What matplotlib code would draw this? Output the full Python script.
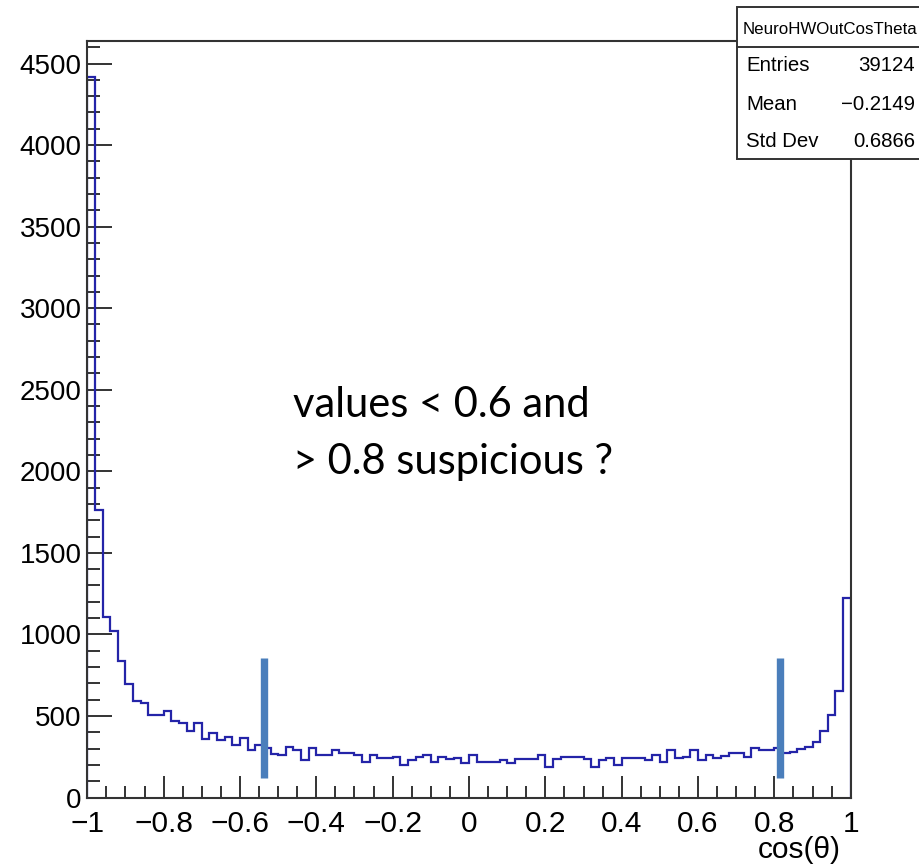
import numpy as np
import matplotlib
matplotlib.use("Agg")
import matplotlib.pyplot as plt
from matplotlib.ticker import MultipleLocator, FixedLocator, FixedFormatter
from matplotlib.patches import Rectangle
from matplotlib.lines import Line2D

# ---------------- data ----------------
x_range = (-1.0, 1.0)
n_bins = 100
counts = [
    4418, 1764, 1105, 1021, 837, 696, 590, 582, 506, 506,
    531, 469, 459, 408, 459, 361, 398, 353, 373, 320,
    363, 291, 322, 302, 269, 261, 312, 291, 230, 302,
    261, 261, 291, 275, 275, 261, 220, 261, 240, 240,
    250, 199, 230, 250, 261, 220, 250, 236, 244, 210,
    261, 220, 220, 220, 230, 210, 234, 234, 234, 261,
    189, 235, 250, 250, 250, 234, 189, 230, 240, 199,
    244, 244, 244, 230, 261, 216, 291, 240, 250, 291,
    230, 261, 240, 254, 271, 271, 246, 302, 291, 291,
    302, 271, 279, 300, 312, 343, 406, 507, 650, 1226,
]
x_tick_values = [-1.0, -0.8, -0.6, -0.4, -0.2, 0.0, 0.2, 0.4, 0.6, 0.8, 1.0]
x_tick_labels = ["\u22121", "\u22120.8", "\u22120.6", "\u22120.4", "\u22120.2",
                 "0", "0.2", "0.4", "0.6", "0.8", "1"]
y_tick_values = [0, 500, 1000, 1500, 2000, 2500, 3000, 3500, 4000, 4500]
y_max = 4638
marker_x = [-0.538, 0.816]
marker_y = (121, 858)
annotation_lines = ["values < 0.6 and", "> 0.8 suspicious ?"]
stats_title = "NeuroHWOutCosTheta"
stats_names = ["Entries", "Mean", "Std Dev"]
stats_values = ["39124", "\u22120.2149", "0.6866"]
x_label = "cos(\u03b8)"

# ---------------- figure ----------------
W, H = 920, 865
fig = plt.figure(figsize=(W / 100, H / 100), dpi=100)
fig.patch.set_facecolor("white")

def fx(px):
    return px / W

def fy(py):
    return 1 - py / H

ax_left, ax_right, ax_top, ax_bottom = 87.3, 850.7, 41.0, 797.5
ax = fig.add_axes([fx(ax_left), fy(ax_bottom), fx(ax_right - ax_left), (ax_bottom - ax_top) / H])

edges = np.linspace(x_range[0], x_range[1], n_bins + 1)
ax.stairs(counts, edges, baseline=0, fill=False, color="#2424a8", lw=1.6, zorder=2)

ax.vlines(marker_x, marker_y[0], marker_y[1], colors="#4a7ebb", lw=5.3,
          capstyle="butt", zorder=4)

ax.set_xlim(*x_range)
ax.set_ylim(0, y_max)

frame_col = "#333333"
for s in ax.spines.values():
    s.set_color(frame_col)
    s.set_linewidth(1.5)
    s.set_zorder(5)

rc_font = ["Liberation Sans", "DejaVu Sans"]
ax.xaxis.set_major_locator(FixedLocator(x_tick_values))
ax.xaxis.set_major_formatter(FixedFormatter(x_tick_labels))
ax.xaxis.set_minor_locator(MultipleLocator(0.05))
ax.yaxis.set_major_locator(FixedLocator(y_tick_values))
ax.yaxis.set_minor_locator(MultipleLocator(100))

ax.tick_params(axis="x", which="major", direction="in", length=16, width=1.4,
               color=frame_col, pad=9, labelsize=21.5)
ax.tick_params(axis="x", which="minor", direction="in", length=9, width=1.4, color=frame_col)
ax.tick_params(axis="y", which="major", direction="in", length=18, width=1.4,
               color=frame_col, pad=4, labelsize=20)
ax.tick_params(axis="y", which="minor", direction="in", length=9, width=1.4, color=frame_col)
ax.tick_params(top=False, right=False, which="both")
for lab in ax.get_xticklabels() + ax.get_yticklabels():
    lab.set_family(rc_font)
    lab.set_color("black")

# x label
fig.text(fx(841), fy(850), x_label, ha="right", va="center", fontsize=21.5,
         family=rc_font, color="black")

# annotation text
ann_font = ["Lato", "DejaVu Sans"]
fig.text(fx(292.7), fy(417), annotation_lines[0], ha="left", va="baseline",
         fontsize=30, family=ann_font, color="black")
fig.text(fx(292.7), fy(474), annotation_lines[1], ha="left", va="baseline",
         fontsize=30, family=ann_font, color="black")

# stats box
bx_l, bx_t, bx_sep, bx_b = 736.7, 7.3, 46.7, 159.3
box = Rectangle((fx(bx_l), fy(bx_b)), 1.2 - fx(bx_l), (bx_b - bx_t) / H,
                transform=fig.transFigure, facecolor="white", edgecolor=frame_col,
                lw=1.4, zorder=10, clip_on=False)
fig.patches.append(box)
fig.lines.append(Line2D([fx(bx_l), 1.2], [fy(bx_sep), fy(bx_sep)],
                        transform=fig.transFigure, color=frame_col, lw=1.4, zorder=11))
fig.text(fx(742.7), fy(29.3), stats_title, ha="left", va="center", fontsize=12.2,
         family=rc_font, color="black", zorder=12)
row_y = [65.7, 104.3, 141.7]
for name, val, ry in zip(stats_names, stats_values, row_y):
    fig.text(fx(746), fy(ry), name, ha="left", va="center", fontsize=14.7,
             family=rc_font, color="black", zorder=12)
    fig.text(fx(915), fy(ry), val, ha="right", va="center", fontsize=14.7,
             family=rc_font, color="black", zorder=12)

fig.savefig("out.png", dpi=100, facecolor="white")
